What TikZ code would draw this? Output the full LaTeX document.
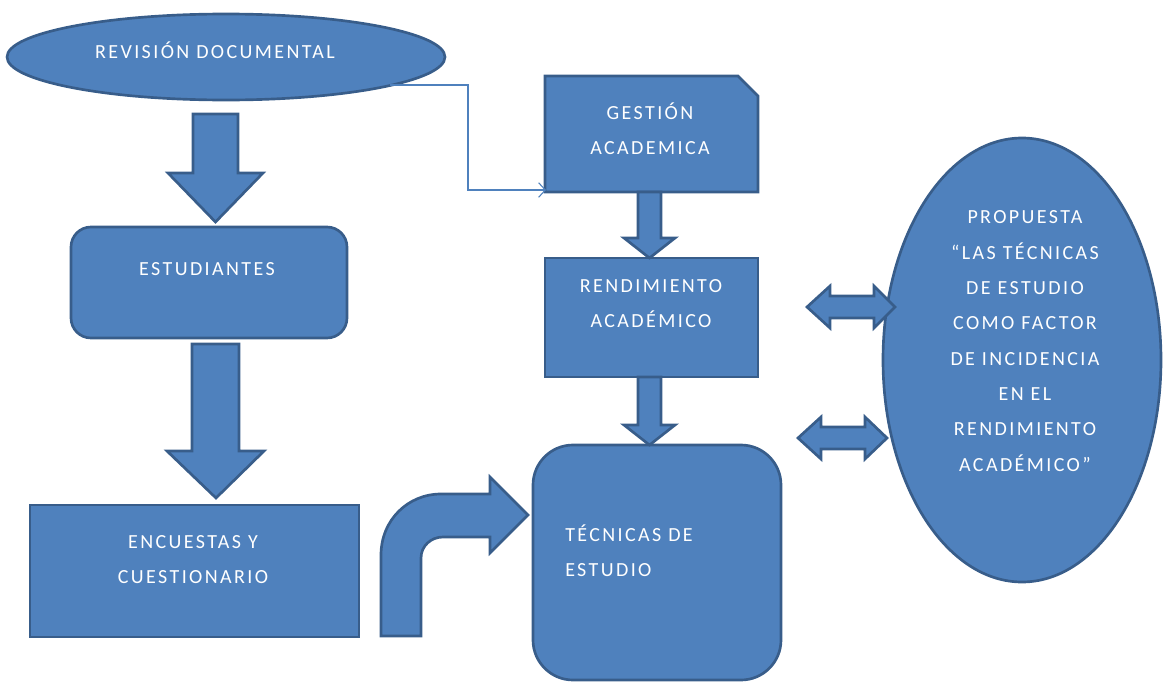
\documentclass[tikz,border=0pt]{standalone}
\usepackage{fontspec}
\setmainfont{Carlito}[LetterSpace=12]
\usetikzlibrary{shapes.geometric,arrows.meta}
\definecolor{bfill}{HTML}{4F81BD}
\definecolor{bline}{HTML}{385D8A}
\tikzset{
  shapebox/.style={fill=bfill,draw=bline,line width=2pt},
  lbl/.style={text=white,font=\fontsize{15pt}{26pt}\selectfont,align=center,anchor=base,inner sep=0pt},
  thinlink/.style={draw=bfill,line width=0.8pt,-{Straight Barb[length=5pt,width=11pt]}},
  blockarrow/.style={fill=bfill,draw=bline,line width=2pt,line join=miter}
}
\begin{document}
\begin{tikzpicture}[x=0.75pt,y=-0.75pt]
\useasboundingbox (0,0) rectangle (1163,682);

% shapes
\node[shapebox,ellipse,minimum width=438*0.75pt,minimum height=86*0.75pt,inner sep=0pt] (rev) at (226,57) {};
\node[shapebox,rounded corners=15pt,minimum width=276*0.75pt,minimum height=111*0.75pt] (est) at (209,282.5) {};
\node[shapebox,minimum width=329*0.75pt,minimum height=132*0.75pt] (enc) at (194.5,571) {};
\draw[shapebox] (545,76) -- (738,76) -- (758,96) -- (758,192) -- (545,192) -- cycle;
\node[shapebox,minimum width=213*0.75pt,minimum height=119*0.75pt] (ren) at (651.5,317.5) {};
\node[shapebox,rounded corners=30pt,minimum width=248*0.75pt,minimum height=235*0.75pt] (tec) at (657,562.5) {};
\node[shapebox,ellipse,minimum width=278*0.75pt,minimum height=444*0.75pt,inner sep=0pt] (prop) at (1022,360) {};

% texts (anchor base = last line's baseline)
\node[lbl] (revt) at (215,58.5) {REVISIÓN DOCUMENTAL};
\node[lbl] (gestt) at (650,154) {GESTIÓN\\ACADEMICA};
\node[lbl] (estt) at (207,275) {ESTUDIANTES};
\node[lbl] (rent) at (651,327) {RENDIMIENTO\\ACADÉMICO};
\node[lbl] (enct) at (193,583) {ENCUESTAS Y\\CUESTIONARIO};
\node[lbl,align=left,anchor=base west] (tect) at (565,576) {TÉCNICAS DE\\ESTUDIO};
\node[lbl] (propt) at (1025,471) {PROPUESTA\\[0.5pt]“LAS TÉCNICAS\\[0.5pt]DE ESTUDIO\\[0.5pt]COMO FACTOR\\[0.5pt]DE INCIDENCIA\\[0.5pt]EN EL\\[0.5pt]RENDIMIENTO\\[0.5pt]ACADÉMICO”};

% thin connector
\coordinate (c1) at (390,85);
\coordinate (c2) at (546,190);
\draw[thinlink] (c1) -- (468,85) -- (468,190) -- (c2);

% block arrows down
\draw[blockarrow] (193,114) -- (238,114) -- (238,173) -- (263,173) -- (215.5,222) -- (168,173) -- (193,173) -- cycle;
\draw[blockarrow] (192,344) -- (239,344) -- (239,451) -- (264,451) -- (216,498) -- (167,451) -- (192,451) -- cycle;
\draw[blockarrow] (638,192) -- (661,192) -- (661,238) -- (675,238) -- (649.5,258) -- (624,238) -- (638,238) -- cycle;
\draw[blockarrow] (638,377) -- (661,377) -- (661,425) -- (675,425) -- (649.5,445) -- (624,425) -- (638,425) -- cycle;

% double arrows
\draw[blockarrow] (807,307) -- (830,286) -- (830,296) -- (874,296) -- (874,286) -- (895,307) -- (874,328) -- (874,318) -- (830,318) -- (830,328) -- cycle;
\draw[blockarrow] (798,438) -- (821,417) -- (821,427) -- (865,427) -- (865,417) -- (887,438) -- (865,459) -- (865,449) -- (821,449) -- (821,459) -- cycle;

% bent arrow
\draw[blockarrow] (381,636) -- (381,555) .. controls (381,520) and (408,494) .. (441,494)
  -- (490,494) -- (490,477) -- (528,515) -- (490,553) -- (490,537) -- (443,537)
  .. controls (431,537) and (421,546) .. (421,558) -- (421,636) -- cycle;
\end{tikzpicture}
\end{document}
